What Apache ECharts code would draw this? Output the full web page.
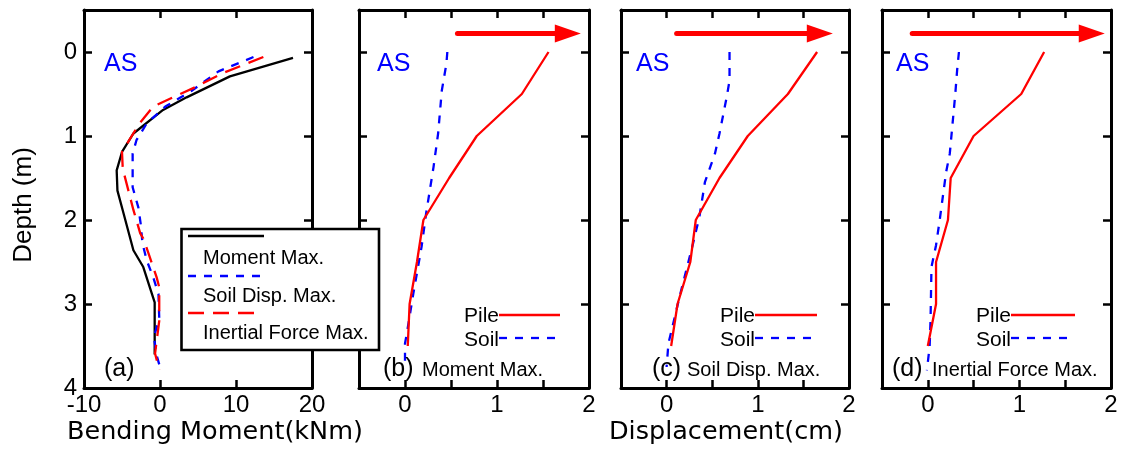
<!DOCTYPE html>
<html>
<head>
<meta charset="utf-8">
<script src="https://cdn.jsdelivr.net/npm/echarts@6/dist/echarts.min.js"></script>
<style>
  html, body { margin: 0; padding: 0; background: #fff; }
  #chart { width: 1125px; height: 452px; }
</style>
</head>
<body>
<div id="chart"></div>
<script>
// ---- tick labels ----
const depthTicks = [0, 1, 2, 3, 4];
const momentTicks = [-10, 0, 10, 20];
const dispTicks = [0, 1, 2];

// ---- (a) bending moment envelopes (kNm) vs depth (m) ----
const momentMaxBM    = [17.5, 9.2, 3.5, 0.4, -3.5, -5.0, -5.7, -5.6, -4.8, -3.5, -2.2, -0.7, -0.7];
const momentMaxDepth = [0.07, 0.29, 0.54, 0.69, 0.97, 1.19, 1.41, 1.65, 1.92, 2.36, 2.56, 2.98, 3.6];

const soilDispBM    = [12.3, 7.7, 4.2, 0.7, -1.75, -3.1, -3.6, -3.6, -2.85, -2.55, -2.3, -1.75, -0.9, -0.2, -0.1, -0.8, -0.45, 0.0];
const soilDispDepth = [0.06, 0.23, 0.46, 0.65, 0.85, 1.05, 1.21, 1.61, 1.85, 2.04, 2.28, 2.48, 2.68, 2.88, 3.17, 3.39, 3.61, 3.75];

const inertialBM    = [13.6, 8.3, 4.6, 2.4, -0.9, -2.7, -5.0, -4.9, -3.5, -2.6, -2.2, -1.5, -0.45, -0.1, -0.1, -0.65, -0.1];
const inertialDepth = [0.06, 0.25, 0.42, 0.51, 0.65, 0.85, 1.19, 1.39, 1.88, 2.16, 2.22, 2.4, 2.68, 2.8, 3.2, 3.59, 3.78];

// ---- (b)-(d) displacement profiles (cm) ----
const pileDepth = [0, 0.5, 1.0, 1.5, 2.0, 2.5, 3.0, 3.5];
const pileDispB = [1.56, 1.27, 0.78, 0.48, 0.20, 0.13, 0.05, 0.03];
const pileDispC = [1.65, 1.33, 0.89, 0.58, 0.32, 0.26, 0.12, 0.05];
const pileDispD = [1.27, 1.02, 0.50, 0.25, 0.22, 0.09, 0.09, 0.00];

const soilDispB  = [0.46, 0.45, 0.40, 0.36, 0.31, 0.23, 0.18, 0.09, 0.02, 0.00, 0.00];
const soilDepthB = [0, 0.14, 0.46, 0.97, 1.37, 1.92, 2.32, 2.88, 3.35, 3.47, 3.75];
const soilDispC  = [0.69, 0.69, 0.66, 0.58, 0.53, 0.42, 0.36, 0.29, 0.15, 0.02, 0.00];
const soilDepthC = [0, 0.34, 0.53, 0.97, 1.21, 1.55, 1.96, 2.28, 2.88, 3.47, 3.75];
const soilDispD  = [0.34, 0.32, 0.30, 0.24, 0.20, 0.13, 0.09, 0.04, 0.03, 0.02, -0.01];
const soilDepthD = [0, 0.22, 0.5, 1.21, 1.43, 2.0, 2.3, 2.56, 3.19, 3.51, 3.79];

// loading-direction arrows (start x, head x) at a fixed level above the ground
const arrowB = [0.57, 1.77];
const arrowC = [0.11, 1.68];
const arrowD = [-0.17, 1.79];
const arrowDepth = -0.22;

const RED = '#ff0000', BLUE = '#0000ff', BLACK = '#000000';
const FONT = 'Liberation Sans, Arial, sans-serif';
const zip = (xs, ys) => xs.map((x, i) => [x, ys[i]]);

const gridTop = 10, gridHeight = 378;
const panels = [
  { left: 84,  width: 228, moment: true },
  { left: 359, width: 230 },
  { left: 621, width: 228 },
  { left: 882, width: 229 }
];

const frameLine = { show: true, onZero: false, lineStyle: { color: BLACK, width: 3 } };
const tickStyle = { color: BLACK, width: 2.5 };

const grid = [], xAxis = [], yAxis = [];
panels.forEach((p, i) => {
  grid.push({ left: p.left, width: p.width, top: gridTop, height: gridHeight });
  const xBase = p.moment
    ? { min: -10, max: 20, interval: 10 }
    : { min: -0.5, max: 2, interval: 0.5 };
  ['bottom', 'top'].forEach(pos => {
    xAxis.push(Object.assign({
      gridIndex: i, type: 'value', position: pos,
      axisLine: frameLine,
      axisTick: { show: true, inside: true, length: 8, lineStyle: tickStyle },
      splitLine: { show: false },
      axisLabel: pos === 'bottom'
        ? { show: true, margin: 5, color: BLACK, fontFamily: FONT, fontSize: 24,
            customValues: p.moment ? momentTicks : dispTicks }
        : { show: false }
    }, xBase));
  });
  ['left', 'right'].forEach(pos => {
    yAxis.push({
      gridIndex: i, type: 'value', position: pos, inverse: true,
      min: -0.5, max: 4,
      axisLine: frameLine,
      axisTick: { show: true, inside: true, length: 8, lineStyle: tickStyle,
                  customValues: depthTicks.slice(0, 4) },
      splitLine: { show: false },
      axisLabel: (i === 0 && pos === 'left')
        ? { show: true, margin: 7, color: BLACK, fontFamily: FONT, fontSize: 24,
            customValues: depthTicks }
        : { show: false }
    });
  });
});

function profile(panel, xs, ds, color, dash, width) {
  return {
    type: 'line', xAxisIndex: panel * 2, yAxisIndex: panel * 2,
    data: zip(xs, ds), symbol: 'none', showSymbol: false, silent: true,
    lineStyle: { color: color, width: width || 2.3, type: dash || 'solid' },
    z: 3
  };
}
function arrow(panel, xs) {
  return {
    type: 'line', xAxisIndex: panel * 2, yAxisIndex: panel * 2, silent: true,
    data: [
      { value: [xs[0], arrowDepth], symbol: 'none' },
      { value: [xs[1], arrowDepth], symbol: 'triangle', symbolSize: [18, 26], symbolRotate: -90 }
    ],
    showSymbol: true,
    itemStyle: { color: RED },
    lineStyle: { color: RED, width: 5, cap: 'round' },
    z: 4
  };
}

const DASH_SHORT = [8, 8];
const DASH_LONG = [16, 9];

const series = [
  profile(0, momentMaxBM, momentMaxDepth, BLACK),
  profile(0, soilDispBM, soilDispDepth, BLUE, DASH_SHORT),
  profile(0, inertialBM, inertialDepth, RED, DASH_LONG),
  profile(1, soilDispB, soilDepthB, BLUE, DASH_SHORT),
  profile(1, pileDispB, pileDepth, RED),
  profile(2, soilDispC, soilDepthC, BLUE, DASH_SHORT),
  profile(2, pileDispC, pileDepth, RED),
  profile(3, soilDispD, soilDepthD, BLUE, DASH_SHORT),
  profile(3, pileDispD, pileDepth, RED),
  arrow(1, arrowB), arrow(2, arrowC), arrow(3, arrowD)
];

// ---- text and legend decorations ----
function txt(text, x, y, size, opts) {
  opts = opts || {};
  return {
    type: 'text', x: x, y: y, rotation: opts.rotation || 0, z: 100, silent: true,
    style: {
      text: text, fill: opts.color || BLACK,
      fontFamily: opts.family || FONT, fontSize: size,
      align: opts.align || 'left', verticalAlign: 'middle',
      textAlign: opts.align || 'left', textVerticalAlign: 'middle'
    }
  };
}
function seg(x1, y1, x2, y2, color, dash, width) {
  return {
    type: 'line', z: 100, silent: true,
    shape: { x1: x1, y1: y1, x2: x2, y2: y2 },
    style: { stroke: color, lineWidth: width || 2.3, lineDash: dash || null }
  };
}

const graphic = [
  // legend box of panel (a)
  { type: 'rect', z: 99, silent: true,
    shape: { x: 181.5, y: 229, width: 197.5, height: 121 },
    style: { fill: '#fff', stroke: BLACK, lineWidth: 2.6 } },
  seg(188, 236, 264, 236, BLACK),
  txt('Moment Max.', 203, 258, 20),
  seg(188, 276, 264, 276, BLUE, DASH_SHORT),
  txt('Soil Disp. Max.', 203, 296, 20),
  seg(188, 313, 262, 313, RED, DASH_LONG),
  txt('Inertial Force Max.', 203, 333, 20),

  // site labels
  txt('AS', 104, 64, 25, { color: BLUE }),
  txt('AS', 377, 64, 25, { color: BLUE }),
  txt('AS', 636, 64, 25, { color: BLUE }),
  txt('AS', 896, 64, 25, { color: BLUE }),

  // panel captions
  txt('(a)', 104, 369, 25),
  txt('(b)', 383, 369, 25), txt('Moment Max.', 422, 370, 20),
  txt('(c)', 652, 369, 25), txt('Soil Disp. Max.', 687, 370, 20),
  txt('(d)', 892, 369, 25), txt('Inertial Force Max.', 932, 370, 20),

  // pile / soil keys
  txt('Pile', 464, 316, 21), seg(499, 315, 560, 315, RED),
  txt('Soil', 464, 340, 21), seg(499, 338, 558, 338, BLUE, DASH_SHORT),
  txt('Pile', 720, 316, 21), seg(755, 315, 817, 315, RED),
  txt('Soil', 720, 340, 21), seg(755, 338, 814, 338, BLUE, DASH_SHORT),
  txt('Pile', 976, 316, 21), seg(1011, 315, 1075, 315, RED),
  txt('Soil', 976, 340, 21), seg(1011, 338, 1072, 338, BLUE, DASH_SHORT),

  // axis titles
  txt('Bending Moment(kNm)', 215, 432, 25.5, { align: 'center', family: 'DejaVu Sans, sans-serif' }),
  txt('Displacement(cm)', 726, 432, 25.5, { align: 'center', family: 'DejaVu Sans, sans-serif' }),
  txt('Depth (m)', 24, 205, 26, { align: 'center', rotation: Math.PI / 2 })
];

const chart = echarts.init(document.getElementById('chart'), null, { renderer: 'canvas' });
chart.setOption({
  animation: false,
  backgroundColor: '#fff',
  grid: grid,
  xAxis: xAxis,
  yAxis: yAxis,
  series: series,
  graphic: graphic
});
</script>
</body>
</html>
